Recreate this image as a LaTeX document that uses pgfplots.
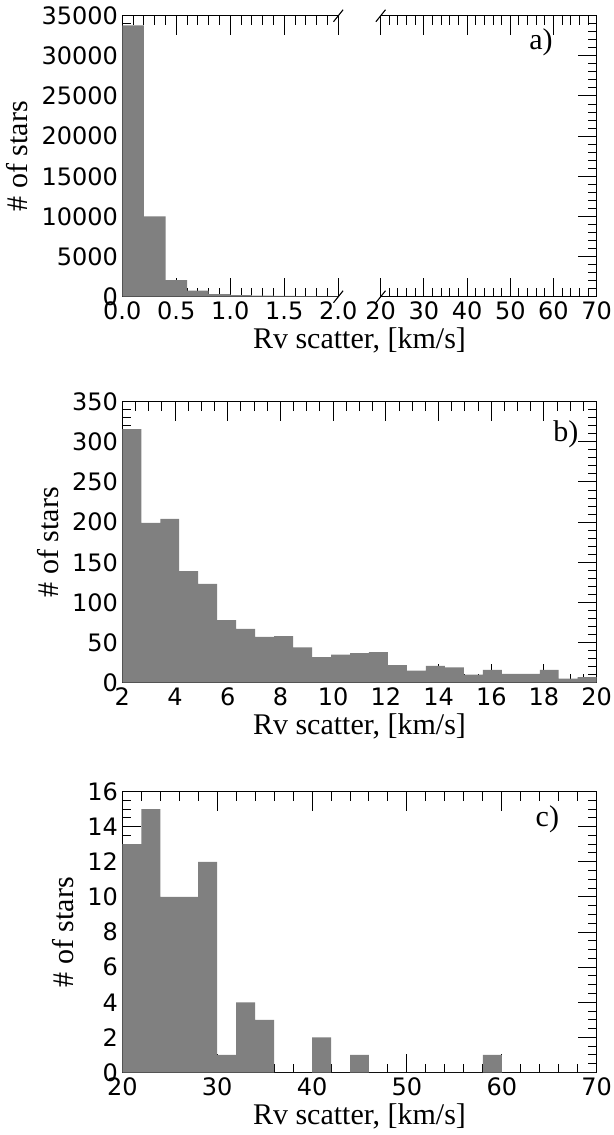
\documentclass[border=0pt]{standalone}
\usepackage{fontspec}
\setmainfont{Liberation Serif}
\newfontfamily\dejavu{DejaVu Sans}
\usepackage{pgfplots}
\pgfplotsset{compat=1.18}

\tikzset{brk/.style={line width=0.55bp}}
\pgfplotsset{
  rvstyle/.style={
    scale only axis,
    anchor=south west,
    height=140.5bp,
    ymin=0,
    clip=false,
    major tick length=9.5bp,
    minor tick length=4.5bp,
    tick style={black, line width=0.5bp},
    axis line style={line width=0.65bp},
    ticklabel style={font=\dejavu\fontsize{12bp}{14bp}\selectfont},
    /pgf/number format/assume math mode=true,
    /pgf/number format/1000 sep={},
    scaled ticks=false,
    xticklabel style={inner ysep=2.3bp},
    yticklabel style={inner xsep=2bp},
    xlabel style={font=\fontsize{15bp}{17bp}\selectfont, inner ysep=1.5bp},
    ylabel style={font=\fontsize{15bp}{17bp}\selectfont, inner ysep=4.5bp},
  },
  bars/.style={const plot, fill=black!50, draw=none},
}

\begin{document}
\begin{tikzpicture}
\useasboundingbox (0,0) rectangle (307bp,-567.5bp);

% ---------------- panel a, left part ----------------
\begin{axis}[rvstyle, name=a1,
  at={(61.15bp,-148.35bp)}, width=108bp,
  xmin=0, xmax=2, ymax=35000,
  axis x line*=box, axis y line*=left, tick align=inside,
  xtick={0,0.5,1,1.5,2}, xticklabels={0.0,0.5,1.0,1.5,2.0},
  ytick={0,5000,...,35000},
  minor x tick num=4, minor y tick num=4,
  ylabel={\# of stars},
  xlabel={Rv scatter, [km/s]},
  xlabel style={at={(ticklabel cs:1.098)}},
]
\addplot[bars] coordinates {
  (0.0,33800) (0.2,10000) (0.4,2080) (0.6,750) (0.8,330)
  (1.0,200) (1.2,130) (1.4,90) (1.6,60) (1.8,40) (2.0,40)
} \closedcycle;
\draw[brk] ([xshift=-2.4bp,yshift=-3bp]rel axis cs:1,0) -- ([xshift=2.4bp,yshift=3bp]rel axis cs:1,0);
\draw[brk] ([xshift=-2.4bp,yshift=-3bp]rel axis cs:1,1) -- ([xshift=2.4bp,yshift=3bp]rel axis cs:1,1);
\end{axis}

% ---------------- panel a, right part ----------------
\begin{axis}[rvstyle, name=a2,
  at={(190.35bp,-148.35bp)}, width=108bp,
  xmin=20, xmax=70, ymax=35000,
  axis x line*=box, axis y line*=right, tick align=inside,
  xtick={20,30,...,70},
  ytick={0,5000,...,35000}, yticklabels={},
  minor x tick num=4, minor y tick num=4,
]
\draw[brk] ([xshift=-2.4bp,yshift=-3bp]rel axis cs:0,0) -- ([xshift=2.4bp,yshift=3bp]rel axis cs:0,0);
\draw[brk] ([xshift=-2.4bp,yshift=-3bp]rel axis cs:0,1) -- ([xshift=2.4bp,yshift=3bp]rel axis cs:0,1);
\node[font=\fontsize{15bp}{17bp}\selectfont] at (rel axis cs:0.742,0.906) {a)};
\end{axis}

% ---------------- panel b ----------------
\begin{axis}[rvstyle,
  at={(61.15bp,-341.35bp)}, width=237.2bp,
  xmin=2, xmax=20, ymax=350,
  tick align=inside,
  xtick={2,4,...,20}, ytick={0,50,...,350},
  minor x tick num=3, minor y tick num=4,
  ylabel={\# of stars},
  xlabel={Rv scatter, [km/s]},
]
\addplot[bars] coordinates {
  (2.00,316) (2.72,199) (3.44,204) (4.16,139) (4.88,123)
  (5.60,78) (6.32,67) (7.04,57) (7.76,58) (8.48,44)
  (9.20,32) (9.92,35) (10.64,37) (11.36,38) (12.08,22)
  (12.80,15) (13.52,21) (14.24,19) (14.96,10) (15.68,16)
  (16.40,11) (17.12,11) (17.84,16) (18.56,5) (19.28,7) (20.00,7)
} \closedcycle;
\node[font=\fontsize{15bp}{17bp}\selectfont] at (rel axis cs:0.935,0.885) {b)};
\end{axis}

% ---------------- panel c ----------------
\begin{axis}[rvstyle,
  at={(61.15bp,-536.25bp)}, width=237.2bp,
  xmin=20, xmax=70, ymax=16,
  tick align=inside,
  xtick={20,30,...,70}, ytick={0,2,...,16},
  minor x tick num=4, minor y tick num=3,
  ylabel={\# of stars},
  xlabel={Rv scatter, [km/s]},
]
\addplot[bars] coordinates {
  (20,13) (22,15) (24,10) (26,10) (28,12) (30,1) (32,4) (34,3)
  (36,0) (38,0) (40,2) (42,0) (44,1) (46,0) (48,0) (50,0)
  (52,0) (54,0) (56,0) (58,1) (60,0) (62,0) (64,0) (66,0) (68,0) (70,0)
} \closedcycle;
\node[font=\fontsize{15bp}{17bp}\selectfont] at (rel axis cs:0.896,0.9) {c)};
\end{axis}
\end{tikzpicture}
\end{document}
